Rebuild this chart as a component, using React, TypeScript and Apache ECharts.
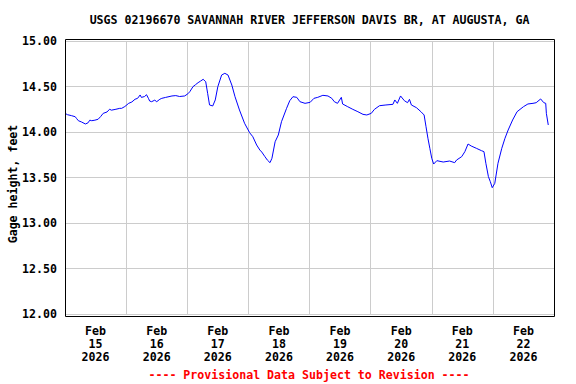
import React, { useEffect, useRef } from "react";
import * as echarts from "echarts";

const TITLE = "USGS 02196670 SAVANNAH RIVER JEFFERSON DAVIS BR, AT AUGUSTA, GA";
const Y_NAME = "Gage height, feet";
const FOOTER = "---- Provisional Data Subject to Revision ----";

const dayLabels = [
  "Feb\n15\n2026",
  "Feb\n16\n2026",
  "Feb\n17\n2026",
  "Feb\n18\n2026",
  "Feb\n19\n2026",
  "Feb\n20\n2026",
  "Feb\n21\n2026",
  "Feb\n22\n2026",
];

const Y_MIN = 12;
const Y_MAX = 15;
const Y_STEP = 0.5;

const START = "02-15 00:00";
const END = "02-23 00:00";

const times = [
  "02-15 00:00", "02-15 01:00", "02-15 02:30", "02-15 04:00", "02-15 04:30", "02-15 05:15",
  "02-15 06:30", "02-15 08:00", "02-15 09:00", "02-15 09:45", "02-15 10:30", "02-15 11:45",
  "02-15 13:00", "02-15 14:00", "02-15 15:00", "02-15 16:30", "02-15 17:30", "02-15 18:15",
  "02-15 20:00", "02-15 21:30", "02-15 22:15", "02-15 23:30",
  "02-16 01:00", "02-16 02:15", "02-16 03:30", "02-16 04:30", "02-16 05:30", "02-16 06:00",
  "02-16 07:15", "02-16 08:00", "02-16 08:45", "02-16 09:15", "02-16 10:00", "02-16 11:15",
  "02-16 12:00", "02-16 13:15", "02-16 14:00", "02-16 15:30", "02-16 18:00", "02-16 19:30",
  "02-16 21:00", "02-16 23:00",
  "02-17 00:15", "02-17 01:00", "02-17 02:15", "02-17 03:15", "02-17 04:15", "02-17 05:15",
  "02-17 06:15", "02-17 07:15", "02-17 08:00", "02-17 08:45", "02-17 10:00", "02-17 11:00",
  "02-17 12:00", "02-17 13:30", "02-17 14:45", "02-17 16:00", "02-17 17:30", "02-17 18:45",
  "02-17 20:30", "02-17 22:30",
  "02-18 00:30", "02-18 01:45", "02-18 03:15", "02-18 04:30", "02-18 05:15", "02-18 06:30",
  "02-18 07:30", "02-18 08:30", "02-18 09:15", "02-18 10:30", "02-18 11:45", "02-18 13:00",
  "02-18 15:00", "02-18 16:15", "02-18 17:30", "02-18 19:00", "02-18 20:15", "02-18 22:15",
  "02-19 00:15", "02-19 01:45", "02-19 03:15", "02-19 05:15", "02-19 07:15", "02-19 08:45",
  "02-19 09:45", "02-19 11:00", "02-19 12:30", "02-19 13:00", "02-19 15:00", "02-19 17:00",
  "02-19 19:00", "02-19 21:00", "02-19 22:30",
  "02-20 00:15", "02-20 01:30", "02-20 03:30", "02-20 06:00", "02-20 08:45", "02-20 09:30",
  "02-20 10:30", "02-20 11:45", "02-20 13:15", "02-20 14:30", "02-20 15:15", "02-20 16:00",
  "02-20 18:00", "02-20 19:45", "02-20 21:00", "02-20 21:45", "02-20 22:30", "02-20 23:15",
  "02-21 00:00", "02-21 00:45", "02-21 02:00", "02-21 04:30", "02-21 07:00", "02-21 09:00",
  "02-21 09:45", "02-21 11:45", "02-21 13:00", "02-21 14:15", "02-21 15:30", "02-21 17:30",
  "02-21 19:30", "02-21 20:30", "02-21 21:15", "02-21 22:15", "02-21 23:00", "02-21 23:45",
  "02-22 00:45", "02-22 02:00", "02-22 03:30", "02-22 04:45", "02-22 06:00", "02-22 07:45",
  "02-22 09:30", "02-22 12:00", "02-22 13:45", "02-22 15:45", "02-22 17:00", "02-22 18:45",
  "02-22 20:00", "02-22 20:45", "02-22 21:00", "02-22 21:45",
];

const heights = [
  14.205, 14.19, 14.18, 14.168, 14.15, 14.124,
  14.11, 14.088, 14.1, 14.13, 14.124, 14.13,
  14.14, 14.17, 14.205, 14.22, 14.25, 14.24,
  14.25, 14.26, 14.26, 14.28,
  14.315, 14.33, 14.36, 14.37, 14.407, 14.38,
  14.39, 14.41, 14.37, 14.34, 14.333, 14.35,
  14.333, 14.36, 14.37, 14.38, 14.396, 14.4,
  14.39, 14.396,
  14.42, 14.443, 14.498, 14.52, 14.542, 14.56,
  14.579, 14.553, 14.425, 14.297, 14.286, 14.352,
  14.498, 14.626, 14.645, 14.626, 14.516, 14.388,
  14.242, 14.096,
  13.992, 13.948, 13.857, 13.802, 13.78, 13.729,
  13.69, 13.663, 13.711, 13.893, 13.967, 14.113,
  14.26, 14.344, 14.388, 14.381, 14.333, 14.315,
  14.326, 14.37, 14.381, 14.403, 14.396, 14.37,
  14.333, 14.315, 14.381, 14.308, 14.278, 14.249,
  14.223, 14.194, 14.187,
  14.205, 14.249, 14.289, 14.297, 14.304, 14.352,
  14.315, 14.396, 14.344, 14.322, 14.359, 14.297,
  14.267, 14.223, 14.187, 14.058, 13.931, 13.821,
  13.711, 13.648, 13.685, 13.67, 13.681, 13.663,
  13.692, 13.729, 13.784, 13.868, 13.846, 13.821,
  13.795, 13.784, 13.656, 13.509, 13.454, 13.388,
  13.436, 13.656, 13.821, 13.931, 14.022, 14.132,
  14.223, 14.278, 14.308, 14.315, 14.322, 14.363,
  14.322, 14.315, 14.205, 14.077,
];

const DAY_MS = 86400000;

function parseTime(s: string): number {
  const [md, hm] = s.split(" ");
  const [mo, d] = md.split("-").map(Number);
  const [h, m] = hm.split(":").map(Number);
  return Date.UTC(2026, mo - 1, d, h, m);
}

const FONT = '"DejaVu Sans Mono", monospace';
const FS = 11.6;

export default function App() {
  const ref = useRef<HTMLDivElement>(null);

  useEffect(() => {
    if (!ref.current) return;
    const chart = echarts.init(ref.current, undefined, { renderer: "svg" });
    const data = times.map((t, i) => [parseTime(t), heights[i]]);
    const gl = 65, gr = 554, gt = 41, gb = 314;
    chart.setOption({
      animation: false,
      backgroundColor: "#ffffff",
      grid: { left: gl, right: 576 - gr, top: gt, bottom: 384 - gb, containLabel: false },
      xAxis: [
        {
          type: "value",
          position: "bottom",
          min: parseTime(START),
          max: parseTime(END),
          interval: DAY_MS,
          axisLabel: { show: false },
          axisTick: { show: false },
          axisLine: { show: false },
          splitLine: { show: true, lineStyle: { color: "#cccccc", width: 1 } },
        },
        {
          type: "category",
          position: "bottom",
          data: dayLabels,
          boundaryGap: true,
          axisLine: { show: false },
          axisTick: { show: false },
          splitLine: { show: false },
          axisLabel: {
            margin: 10,
            interval: 0,
            color: "#000000",
            fontFamily: FONT,
            fontWeight: "bold",
            fontSize: FS,
            lineHeight: 13,
          },
        },
      ],
      yAxis: {
        type: "value",
        min: Y_MIN,
        max: Y_MAX,
        interval: Y_STEP,
        axisLine: { show: false },
        axisTick: { show: false },
        splitLine: { show: true, lineStyle: { color: "#cccccc", width: 1 } },
        axisLabel: {
          margin: 8,
          color: "#000000",
          fontFamily: FONT,
          fontWeight: "bold",
          fontSize: FS,
          formatter: (v: number) => v.toFixed(2),
        },
      },
      series: [
        {
          type: "line",
          xAxisIndex: 0,
          yAxisIndex: 0,
          data,
          showSymbol: false,
          symbol: "none",
          lineStyle: { color: "#0000ff", width: 1 },
        },
      ],
      graphic: [
        {
          type: "rect",
          silent: true,
          shape: { x: 65.5, y: 39.5, width: 489, height: 277 },
          style: { fill: "none", stroke: "#000000", lineWidth: 1 },
          z: 100,
        },
        {
          type: "text",
          x: 309.5,
          y: 20,
          style: {
            text: TITLE,
            fill: "#000000",
            font: `bold ${FS}px ${FONT}`,
            align: "center",
            verticalAlign: "middle",
          },
        },
        {
          type: "text",
          x: 13,
          y: 184,
          rotation: Math.PI / 2,
          style: {
            text: Y_NAME,
            fill: "#000000",
            font: `bold ${FS}px ${FONT}`,
            align: "center",
            verticalAlign: "middle",
          },
        },
        {
          type: "text",
          x: 309,
          y: 375,
          style: {
            text: FOOTER,
            fill: "#ff0000",
            font: `bold ${FS}px ${FONT}`,
            align: "center",
            verticalAlign: "middle",
          },
        },
      ],
    });
    return () => chart.dispose();
  }, []);

  return (
    <div
      ref={ref}
      style={{ position: "fixed", left: 0, top: 0, width: 576, height: 384, background: "#fff" }}
    />
  );
}
